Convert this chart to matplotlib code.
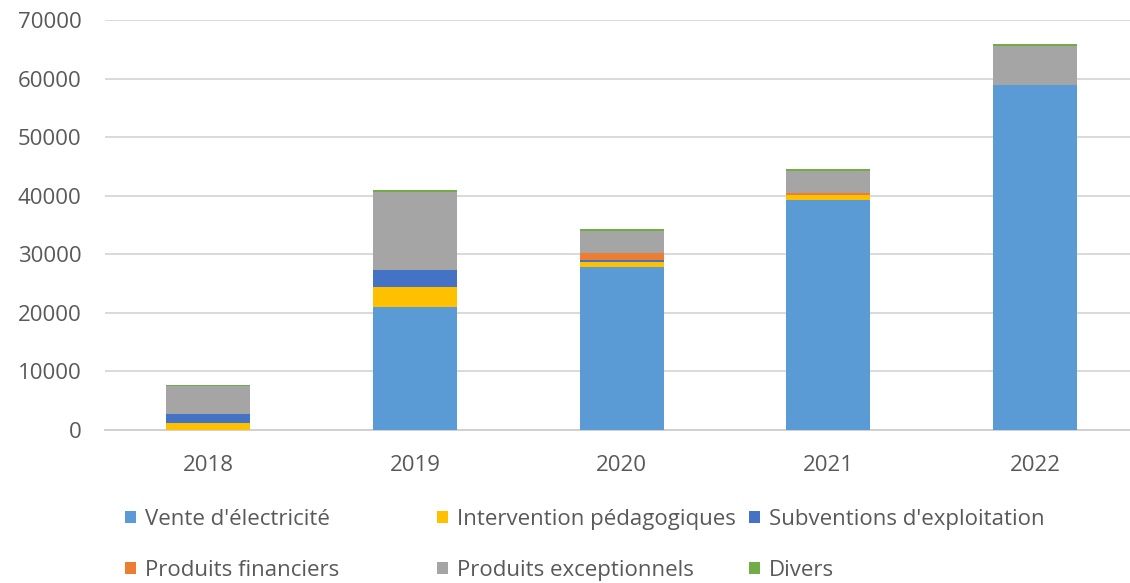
import matplotlib
matplotlib.use("Agg")
import matplotlib.pyplot as plt
import numpy as np

plt.rcParams['font.family'] = ['Open Sans', 'DejaVu Sans']

years = ['2018', '2019', '2020', '2021', '2022']
series = [
    "Vente d'électricité",
    "Intervention pédagogiques",
    "Subventions d'exploitation",
    "Produits financiers",
    "Produits exceptionnels",
    "Divers",
]
vente = [0, 21000, 27900, 39300, 58900]
intervention = [1150, 3350, 750, 750, 0]
subventions = [1550, 2950, 400, 0, 0]
financiers = [0, 0, 1100, 350, 0]
exceptionnels = [4850, 13350, 3900, 3900, 6650]
divers = [200, 250, 250, 220, 330]
colors = ['#5B9BD5', '#FFC000', '#4472C4', '#ED7D31', '#A5A5A5', '#70AD47']

values = [vente, intervention, subventions, financiers, exceptionnels, divers]
txt = '#595959'

fig = plt.figure(figsize=(11.30, 5.83), dpi=100)
# axes run slightly past the right edge, like the cropped source
ax = fig.add_axes([105 / 1130, 153 / 583, 1033.5 / 1130, 410 / 583])

x = np.arange(len(years))
bottom = np.zeros(len(years))
bars = []
for name, vals, c in zip(series, values, colors):
    b = ax.bar(x, vals, 0.406, bottom=bottom, color=c, label=name, zorder=3)
    bars.append(b)
    bottom += np.array(vals)

ax.set_xlim(-0.5, len(years) - 0.5)
ax.set_ylim(0, 70000)
ax.set_yticks(range(0, 70001, 10000))
ax.set_xticks(x)
ax.set_xticklabels(years)
ax.yaxis.grid(True, color='#D9D9D9', linewidth=1.4, zorder=0)
for s in ['top', 'right', 'left']:
    ax.spines[s].set_visible(False)
ax.spines['bottom'].set_color('#D0D0D0')
ax.spines['bottom'].set_linewidth(1.4)
ax.tick_params(axis='both', length=0, labelsize=16, labelcolor=txt)
ax.tick_params(axis='y', pad=17)
ax.tick_params(axis='x', pad=18)

# three legend columns of equal width
col_x = [125, 437, 749]
for i in range(3):
    hs = [bars[i], bars[i + 3]]
    ls = [series[i], series[i + 3]]
    leg = fig.legend(hs, ls, loc='upper left',
                     bbox_to_anchor=(col_x[i] / 1130, 1 - 509 / 583),
                     frameon=False, fontsize=16, labelcolor=txt,
                     handlelength=0.5, handleheight=0.5,
                     handletextpad=0.4, labelspacing=1.35,
                     borderpad=0, borderaxespad=0)

fig.savefig('out.png', dpi=100)
